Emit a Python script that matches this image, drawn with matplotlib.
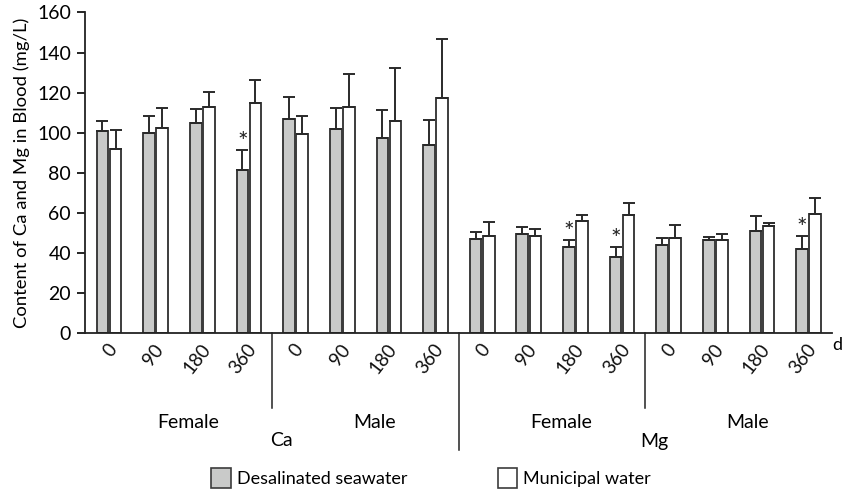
import matplotlib
matplotlib.use("Agg")
import matplotlib.pyplot as plt
import matplotlib.transforms as mtransforms
from matplotlib.patches import Patch
import numpy as np

plt.rcParams['font.family'] = ['Lato', 'DejaVu Sans']

days = ["0", "90", "180", "360"] * 4
sexes = ["Female", "Male", "Female", "Male"]
minerals = ["Ca", "Mg"]

desal = [101, 100, 105, 81.3, 107, 101.7, 97.5, 93.8,
         47, 49.5, 43.2, 38.2, 44.2, 46.3, 51.2, 42.2]
desal_err = [5, 8.5, 7, 10, 11, 10.5, 14, 12.7,
             3.5, 3.7, 3.2, 4.8, 3.2, 1.8, 7.5, 6.2]
muni = [92, 102.5, 112.8, 114.8, 99.5, 113, 105.7, 117.3,
        48.7, 48.7, 56.2, 58.8, 47.3, 46.5, 53.3, 59.7]
muni_err = [9.5, 10, 7.5, 11.5, 9, 16.3, 26.7, 29.3,
            7, 3.5, 2.7, 6, 6.5, 3.2, 1.8, 8]
stars = [3, 10, 11, 15]  # group indices with * over desalinated bar

W, H = 842, 493
fig = plt.figure(figsize=(W / 100, H / 100), dpi=100)
left, right, top, bottom = 85, 832, 12.5, 333.3
ax = fig.add_axes([left / W, 1 - bottom / H, (right - left) / W, (bottom - top) / H])

x = np.arange(len(desal))
bw = 0.25
off = 0.14
gray = '#c9cac9'
edge = '#3c3c3c'
ax.bar(x - off, desal, bw, color=gray, edgecolor=edge, linewidth=1.4, zorder=2)
ax.bar(x + off, muni, bw, color='white', edgecolor=edge, linewidth=1.4, zorder=2)
ax.errorbar(x - off, desal, yerr=[np.zeros(len(desal)), desal_err], fmt='none',
            ecolor='#2a2a2a', elinewidth=1.4, capsize=4.5, capthick=1.4, zorder=3)
ax.errorbar(x + off, muni, yerr=[np.zeros(len(muni)), muni_err], fmt='none',
            ecolor='#2a2a2a', elinewidth=1.4, capsize=4.5, capthick=1.4, zorder=3)

for i in stars:
    ax.text(x[i] - off, desal[i] + desal_err[i] - 2.0, '*', ha='center', va='bottom',
            fontsize=18, color='#222222')

ax.set_xlim(-0.515, 15.5)
ax.set_ylim(0, 160)
ax.set_yticks(np.arange(0, 161, 20))
ax.tick_params(axis='y', labelsize=14, length=6, width=1.2, direction='out', pad=4)
ax.set_xticks([])
for s in ['top', 'right']:
    ax.spines[s].set_visible(False)
for s in ['left', 'bottom']:
    ax.spines[s].set_linewidth(1.3)
    ax.spines[s].set_color('#222222')
ax.set_ylabel('Content of Ca and Mg in Blood (mg/L)', fontsize=13.3, labelpad=5)

trans = mtransforms.blended_transform_factory(ax.transData, ax.transAxes)
axh = bottom - top
def yfrac(py):
    return -(py - bottom) / axh

# day tick labels
for i, d in enumerate(days):
    ax.text(x[i] + 0.24, yfrac(341), d, transform=trans, rotation=52,
            ha='right', va='top', fontsize=13.5, color='#111111')

# dividers
for xd, yend in [(3.5, 408), (11.5, 408), (7.5, 450)]:
    ax.plot([xd, xd], [0, yfrac(yend)], transform=trans, color='#222222',
            lw=1.1, clip_on=False)

# sex labels
for k, s in enumerate(sexes):
    ax.text(4 * k + 1.5 + 0.2, yfrac(423), s, transform=trans, ha='center',
            va='center', fontsize=14)
for k, m in enumerate(minerals):
    ax.text(8 * k + 3.5 + 0.2, yfrac(441), m, transform=trans, ha='center',
            va='center', fontsize=14)

fig.text(832 / W, 1 - 345 / H, 'd', ha='left', va='center', fontsize=13)

handles = [Patch(facecolor=gray, edgecolor=edge, linewidth=1.2),
           Patch(facecolor='white', edgecolor=edge, linewidth=1.2)]
fig.legend(handles, ['Desalinated seawater', 'Municipal water'], loc='center',
           bbox_to_anchor=(431 / W, 1 - 478 / H), ncol=2, frameon=False,
           fontsize=13, handlelength=1.1, handleheight=1.3, handletextpad=0.3,
           columnspacing=5.0)

fig.savefig('out.png', dpi=100)
